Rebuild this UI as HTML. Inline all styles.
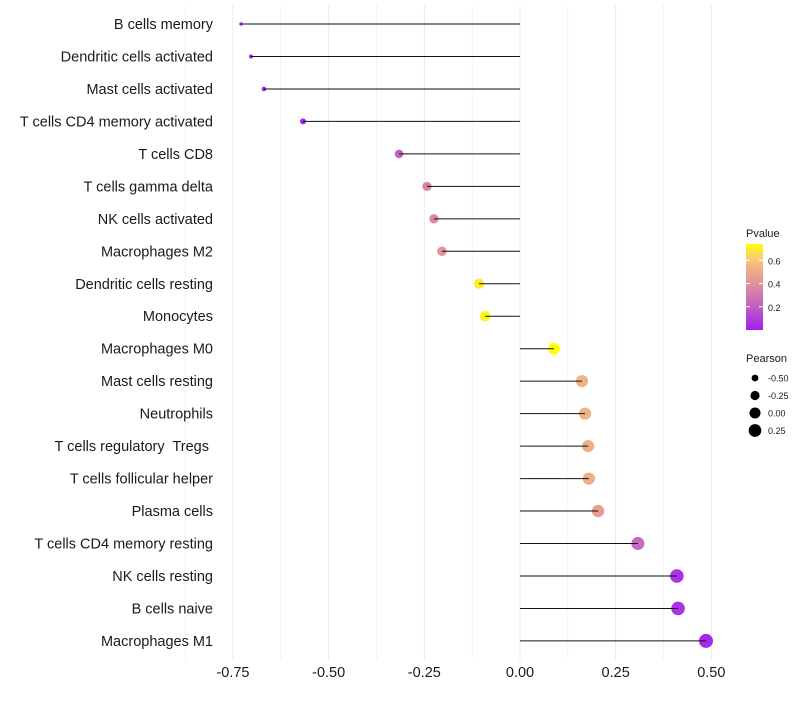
<!DOCTYPE html>
<html><head><meta charset="utf-8"><style>body{margin:0;background:#fff}svg{font-family:"Liberation Sans",sans-serif}text{white-space:pre}</style></head>
<body>
<svg id="c" width="800" height="700"></svg>
<script>
const categories=["B cells memory","Dendritic cells activated","Mast cells activated","T cells CD4 memory activated","T cells CD8","T cells gamma delta","NK cells activated","Macrophages M2","Dendritic cells resting","Monocytes","Macrophages M0","Mast cells resting","Neutrophils","T cells regulatory  Tregs ","T cells follicular helper","Plasma cells","T cells CD4 memory resting","NK cells resting","B cells naive","Macrophages M1"];
const pearson=[-0.729,-0.703,-0.669,-0.567,-0.316,-0.243,-0.225,-0.204,-0.107,-0.091,0.089,0.162,0.170,0.178,0.180,0.204,0.308,0.410,0.413,0.486];
const pvalue=[0.001,0.003,0.005,0.02,0.22,0.34,0.37,0.41,0.70,0.72,0.74,0.53,0.53,0.52,0.52,0.45,0.24,0.06,0.06,0.03];
const xTicks=[-0.75,-0.5,-0.25,0,0.25,0.5];
const xTickLabels=["-0.75","-0.50","-0.25","0.00","0.25","0.50"];
const pTicks=[0.2,0.4,0.6];
const sizeTicks=[-0.5,-0.25,0,0.25];
const NS="http://www.w3.org/2000/svg",svg=document.getElementById('c');
function mk(t,a,p){const e=document.createElementNS(NS,t);for(const k in a)e.setAttribute(k,a[k]);(p||svg).appendChild(e);return e;}
const x=v=>520+v*382.7;
const y=i=>24+i*32.47;
const pmin=0,pmax=0.74;
function lerp(a,b,t){return Math.round(a+(b-a)*t);}
const stops=[[0,[160,32,240]],[0.3,[196,100,192]],[0.5,[220,138,160]],[0.7,[238,174,136]],[0.85,[248,208,112]],[1,[255,255,0]]];
function col(p){let t=Math.max(0,Math.min(1,(p-pmin)/(pmax-pmin)));for(let k=1;k<stops.length;k++){if(t<=stops[k][0]){const a=stops[k-1],b=stops[k];const u=(t-a[0])/(b[0]-a[0]);return `rgb(${lerp(a[1][0],b[1][0],u)},${lerp(a[1][1],b[1][1],u)},${lerp(a[1][2],b[1][2],u)})`;}}return 'rgb(255,255,0)';}
const smin=-0.729,smax=0.486;
const rad=v=>Math.sqrt(3+(49-3)*(v-smin)/(smax-smin));
for(let v=-0.875;v<=0.5;v+=0.125){const g=mk('line',{x1:x(v),x2:x(v),y1:5,y2:660,stroke:'#ebebeb','stroke-width':Math.abs((v*4)%1)<1e-6?1:0.6});}
categories.forEach((c,i)=>{const t=mk('text',{x:213,y:y(i)+5,'text-anchor':'end','font-size':14.5,fill:'#1a1a1a'});t.textContent=c;
const d=mk('circle',{cx:x(pearson[i]),cy:y(i),r:rad(pearson[i]),fill:col(pvalue[i])});
const l=mk('line',{x1:x(0),x2:x(pearson[i]),y1:y(i),y2:y(i),stroke:'#111','stroke-width':1});});
xTicks.forEach((v,i)=>{const t=mk('text',{x:x(v),y:677,'text-anchor':'middle','font-size':14.5,fill:'#1a1a1a'});t.textContent=xTickLabels[i];});
const lt=mk('text',{x:746,y:237,'font-size':11,fill:'#1a1a1a'});lt.textContent='Pvalue';
const defs=mk('defs',{});const gr=mk('linearGradient',{id:'g',x1:0,y1:1,x2:0,y2:0},defs);
for(let k=0;k<=20;k++)mk('stop',{offset:k/20,'stop-color':col(pmin+(pmax-pmin)*k/20)},gr);
const py=p=>330-(p-pmin)/(pmax-pmin)*86;
const cb=mk('rect',{x:746,y:244,width:17,height:86,fill:'url(#g)'});
pTicks.forEach(p=>{mk('line',{x1:746,x2:750,y1:py(p),y2:py(p),stroke:'#fff'});mk('line',{x1:759,x2:763,y1:py(p),y2:py(p),stroke:'#fff'});const t=mk('text',{x:768,y:py(p)+4,'font-size':9,fill:'#1a1a1a'});t.textContent=p.toFixed(1);});
const st=mk('text',{x:746,y:362,'font-size':11,fill:'#1a1a1a'});st.textContent='Pearson';
sizeTicks.forEach((v,i)=>{const cy=378+i*17.5;const c=mk('circle',{cx:755,cy:cy,r:rad(v),fill:'#000'});const t=mk('text',{x:768,y:cy+3.5,'font-size':9,fill:'#1a1a1a'});t.textContent=v.toFixed(2);});
</script>
</body></html>
